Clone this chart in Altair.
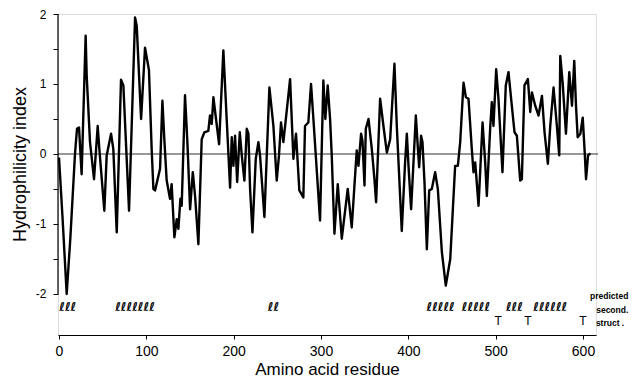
import altair as alt
import pandas as pd

# Hydrophilicity profile (residue, index)
residue = [0, 4, 8.8, 13, 18.3, 20.6, 22.9, 25.9, 30.5, 31.7, 35.5, 40.1, 44.3, 46.2, 51.9, 54.6,
           59.6, 62.2, 66.1, 71.0, 73.7, 80.2, 87.1, 89, 94, 98.5, 103, 106.1, 108.1, 110, 115.7,
           118.4, 120.6, 123.3, 127.1, 129, 132.1, 134.8, 136.7, 139, 140.5, 144.3, 147, 150.1,
           153.2, 155.8, 159.6, 163.4, 166.5, 171, 172.9, 174.9, 176.8, 179.8, 183.3, 188.2, 192,
           195.9, 197.8, 199.7, 201.6, 204, 207, 209.3, 212.3, 215, 216.9, 218.8, 221.5, 225.3,
           228.3, 230.2, 235.2, 240.9, 245.5, 249.3, 251.9, 254.2, 256.9, 259.6, 264.6, 268.4,
           271.4, 275.2, 279.8, 281.7, 285.5, 288.6, 291.3, 298.9, 302.7, 305, 307.7, 310.4, 312.3,
           315.4, 319.2, 323.8, 330.6, 335.2, 340.9, 342.9, 345.9, 347.5, 349.8, 351.3, 354.4,
           358.2, 361.2, 363.1, 367.7, 371.5, 375.4, 379.2, 384.1, 386.8, 392.5, 396.3, 398.3,
           400.2, 403.2, 408.6, 411, 412.4, 414.6, 416.2, 418.5, 421.2, 423.9, 426.9, 430.7, 433.8,
           438.4, 442.9, 448, 453.6, 456.7, 459.4, 463.2, 465.9, 468.9, 472.7, 474.6, 476.6, 480.4,
           485, 488, 489.9, 493.7, 495.6, 497.5, 500.6, 503.2, 507.8, 511.6, 514.7, 518.5, 521.6,
           524.3, 528.1, 530, 533, 536.9, 539.6, 541.5, 545.3, 549.1, 553, 556, 559.8, 562.5, 566.3,
           570.1, 572.8, 574, 576.7, 580.5, 584.3, 587.4, 590, 592, 593.9, 597, 599.7, 602, 603.5,
           605.8, 608.5]
index = [-0.05, -0.9, -2.0, -1.2, 0.0, 0.36, 0.38, -0.29, 1.69, 1.12, 0.17, -0.36, 0.40, 0.07, -0.81,
         -0.02, 0.29, 0.07, -1.12, 1.06, 0.98, -0.81, 1.95, 1.83, 0.5, 1.52, 1.2, 0.07, -0.5, -0.52,
         -0.21, 0.76, 0.21, -0.38, -0.64, -0.43, -1.19, -0.93, -1.07, -0.64, -0.74, 0.84, 0.17, -0.79,
         -0.26, -0.6, -1.29, 0.21, 0.31, 0.33, 0.55, 0.43, 0.81, 0.5, 0.14, 1.48, 0.5, -0.48, 0.24,
         -0.17, 0.26, -0.4, 0.31, -0.02, -0.38, 0.36, 0.29, -0.5, -1.12, -0.07, 0.17, -0.02, -0.9,
         0.95, 0.4, -0.38, -0.02, 0.45, 0.17, 0.48, 1.07, -0.07, 0.29, -0.52, -0.62, 0.4, 0.45, 1.0,
         0.5, -0.95, 1.05, 0.5, 0.98, 0.5, -0.02, -1.14, -0.43, -1.21, -0.5, -1.05, 0.05, -0.17, 0.29,
         0.19, -0.45, 0.36, 0.5, 0.07, -0.36, -0.69, 0.79, 0.4, 0.02, 0.21, 1.29, 0.4, -1.1, -0.12,
         0.29, -0.17, -0.79, 0.55, 0.07, -0.19, 0.26, 0.17, -0.4, -1.36, -0.52, -0.5, -0.26, -0.5,
         -1.4, -1.88, -1.5, -0.17, -0.17, 0.17, 1.02, 0.81, 0.79, 0.07, -0.26, -0.12, -0.74, 0.45,
         -0.12, -0.6, 0.36, 0.74, 0.4, 1.21, 0.79, -0.26, 0.98, 1.17, 0.69, 0.31, 0.26, -0.38, -0.36,
         0.98, 1.07, 0.6, 0.88, 0.69, 0.55, 0.83, 0.31, -0.14, 0.4, 0.95, 0.4, -0.02, 1.4, 1.02, 0.29,
         1.17, 0.69, 1.33, 0.69, 0.24, 0.29, 0.52, 0.02, -0.36, -0.02, 0.01]

# Predicted secondary structure
helix_start = [0, 66, 238, 419, 461, 513, 540]
helix_end = [20, 108, 253, 455, 494, 530, 585]
helix_coils = [3, 7, 2, 5, 5, 3, 6]
turn_pos = [503, 537, 600]

legend_lines = ["predicted", "second.", "struct ."]
legend_x = [630, 633.5, 631]
legend_y = [-2.03, -2.23, -2.41]

x_ticks = [0, 100, 200, 300, 400, 500, 600]
y_ticks = [-2, -1.5, -1, -0.5, 0, 0.5, 1, 1.5, 2]

FONT = "Liberation Sans"
XDOM = [-1.15, 614.9]
YDOM = [-2.586, 2]

profile = pd.DataFrame({"residue": residue, "index": index})
helix = pd.DataFrame({
    "mid": [(a + b) / 2 for a, b in zip(helix_start, helix_end)],
    "coil": ["ℓ" * n for n in helix_coils],
    "y": [-2.186] * len(helix_start),
})
turns = pd.DataFrame({"pos": turn_pos, "t": ["T"] * len(turn_pos), "y": [-2.386] * len(turn_pos)})
legend = pd.DataFrame({"x": legend_x, "y": legend_y, "t": legend_lines})

xs = alt.Scale(domain=XDOM, nice=False, zero=False)
ys = alt.Scale(domain=YDOM, nice=False, zero=False)

line = alt.Chart(profile).mark_line(color="black", strokeWidth=2.4, strokeJoin="round").encode(
    x=alt.X("residue:Q", scale=xs, axis=alt.Axis(
        values=x_ticks, title="Amino acid residue", grid=False, tickSize=4, labelPadding=5,
        labelFontSize=14, titleFontSize=17, titleFontWeight="normal", titlePadding=3,
        labelFont=FONT, titleFont=FONT, domainColor="black", tickColor="black",
        labelColor="black", titleColor="black", domainWidth=1.2, labelFlush=False)),
    y=alt.Y("index:Q", scale=ys, axis=alt.Axis(
        values=y_ticks, grid=False, domain=False, tickSize=5, labelPadding=7,
        labelExpr="datum.value % 1 == 0 ? replace(format(datum.value, 'd'), '−', '-') : ''",
        labelFontSize=12, labelFont=FONT, labelColor="black", tickColor="black",
        title="Hydrophilicity index", titleFont=FONT, titleFontSize=18, titleFontWeight="normal",
        titleColor="black", titleX=-38, titleY=150, titleAngle=270, titleAlign="center",
        titleBaseline="middle")),
)

zero = alt.Chart(pd.DataFrame({"y": [0]})).mark_rule(color="#333333", strokeWidth=1).encode(
    y=alt.Y("y:Q", scale=ys), x=alt.value(0), x2=alt.value(540))

yaxis = alt.Chart(pd.DataFrame({"a": [-2], "b": [2]})).mark_rule(color="black", strokeWidth=1.2).encode(
    x=alt.value(0), y=alt.Y("a:Q", scale=ys), y2="b:Q")

helix_txt = alt.Chart(helix).mark_text(font="DejaVu Sans", fontSize=12, fontStyle="italic",
                                       fontWeight="bold", color="black").encode(
    x=alt.X("mid:Q", scale=xs), y=alt.Y("y:Q", scale=ys), text="coil:N")

turn_txt = alt.Chart(turns).mark_text(font=FONT, fontSize=12, color="black").encode(
    x=alt.X("pos:Q", scale=xs), y=alt.Y("y:Q", scale=ys), text="t:N")

legend_txt = alt.Chart(legend).mark_text(font=FONT, fontSize=8.5, fontWeight="bold",
                                         color="black", align="center").encode(
    x=alt.X("x:Q", scale=xs), y=alt.Y("y:Q", scale=ys), text="t:N")

chart = alt.layer(zero, yaxis, line, helix_txt, turn_txt, legend_txt).properties(
    width=538, height=321,
    autosize=alt.AutoSizeParams(type="none"),
    padding={"left": 50, "top": 6, "right": 33, "bottom": 42},
).configure_view(stroke=None).configure(background="white")

chart.save("out.html", embed_options={"renderer": "svg", "actions": False})
